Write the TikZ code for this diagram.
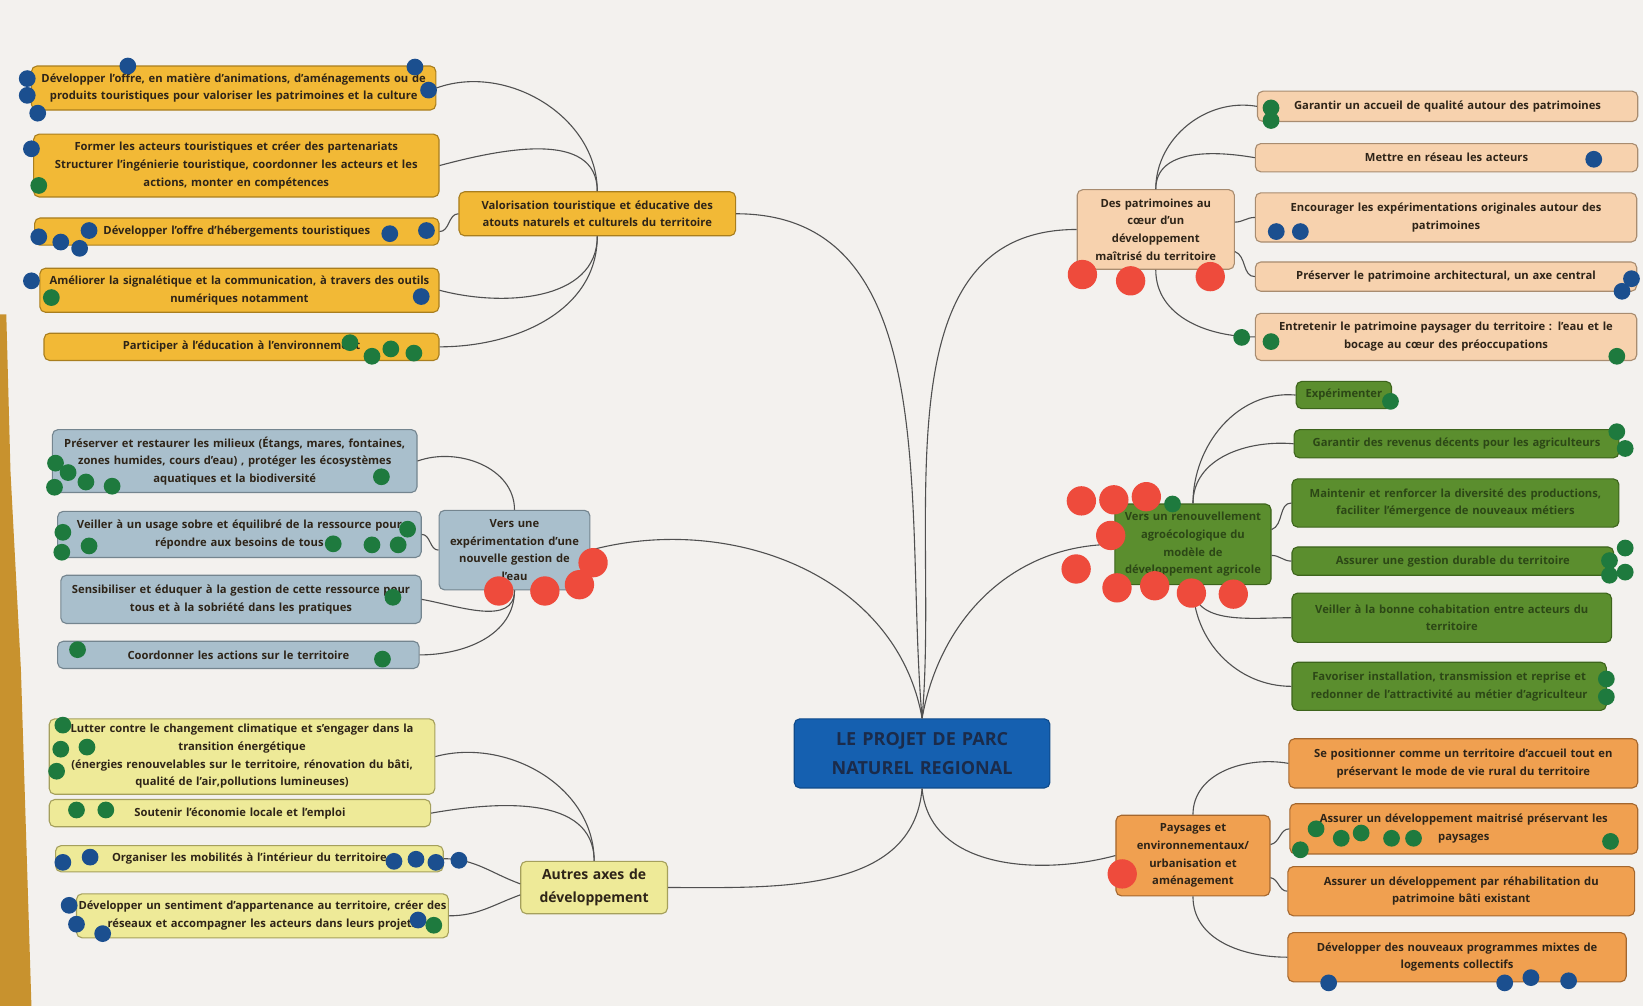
\documentclass[tikz,border=0pt]{standalone}
\usepackage{fontspec}
\setmainfont{Open Sans}
\usetikzlibrary{positioning}
\definecolor{paper}{HTML}{F3F1EE}
\definecolor{strip}{HTML}{C8922E}
\definecolor{goldF}{HTML}{F2B936}
\definecolor{goldD}{HTML}{A97E1E}
\definecolor{peachF}{HTML}{F7D2AE}
\definecolor{peachD}{HTML}{A88C70}
\definecolor{greyF}{HTML}{A9BFCC}
\definecolor{greyD}{HTML}{74858F}
\definecolor{greenF}{HTML}{5B8E2E}
\definecolor{greenD}{HTML}{3D641C}
\definecolor{greenT}{HTML}{2C4716}
\definecolor{paleF}{HTML}{EEEA98}
\definecolor{paleD}{HTML}{A5A05C}
\definecolor{orangeF}{HTML}{F0A050}
\definecolor{orangeD}{HTML}{A4672E}
\definecolor{titleF}{HTML}{1560B0}
\definecolor{titleD}{HTML}{0E4A8A}
\definecolor{titleT}{HTML}{1B2B4A}
\definecolor{txt}{HTML}{2E2418}
\definecolor{dotB}{HTML}{1B4F8F}
\definecolor{dotG}{HTML}{1E7A3E}
\definecolor{dotR}{HTML}{EE4B3C}
\definecolor{wire}{HTML}{505050}
\newcommand{\boxfont}{\fontsize{6.1}{9.6}\selectfont\bfseries}

\begin{document}
\begin{tikzpicture}[x=0.02cm,y=-0.02cm,
  box/.style 2 args={draw,rounded corners=3pt,align=center,inner xsep=0pt,inner ysep=1pt,
    line width=0.6pt,text=txt,font=\boxfont,text width=#1,minimum height=#2},
  gold/.style 2 args={box={#1}{#2},fill=goldF,draw=goldD},
  peach/.style 2 args={box={#1}{#2},fill=peachF,draw=peachD},
  grey/.style 2 args={box={#1}{#2},fill=greyF,draw=greyD},
  green/.style 2 args={box={#1}{#2},fill=greenF,draw=greenD,text=greenT},
  pale/.style 2 args={box={#1}{#2},fill=paleF,draw=paleD},
  orange/.style 2 args={box={#1}{#2},fill=orangeF,draw=orangeD},
  link/.style={draw=wire,line width=0.6pt}]
\useasboundingbox (0,0) rectangle (1568,960);
\fill[paper] (0,0) rectangle (1568,960);
\fill[strip] (0,300) -- (6,300) -- (10,450) -- (20,640) -- (30,960) -- (0,960) -- cycle;

\node[box={4.88cm}{1.32cm},fill=titleF,draw=titleD,text=titleT,font=\fontsize{9.8}{16}\selectfont\bfseries] (ctr) at (880,719) {LE PROJET DE PARC\\NATUREL REGIONAL};

\node[gold={5.28cm}{0.84cm}] (val) at (570,204) {Valorisation touristique et éducative des\\atouts naturels et culturels du territoire};
\node[gold={7.72cm}{0.84cm}] (c1) at (223,84) {Développer l'offre, en matière d'animations, d'aménagements ou de\\produits touristiques pour valoriser les patrimoines et la culture};
\node[gold={7.74cm}{1.2cm}] (c2) at (225.5,158) {Former les acteurs touristiques et créer des partenariats\\Structurer l'ingénierie touristique, coordonner les acteurs et les\\actions, monter en compétences};
\node[gold={7.72cm}{0.52cm}] (c3) at (226,221) {Développer l'offre d'hébergements touristiques};
\node[gold={7.62cm}{0.84cm}] (c4) at (228.5,277) {Améliorer la signalétique et la communication, à travers des outils\\numériques notamment};
\node[gold={7.54cm}{0.52cm}] (c5) at (230.5,331) {Participer à l'éducation à l'environnement};

\node[grey={2.88cm}{1.52cm}] (wat) at (491,525) {Vers une\\expérimentation d'une\\nouvelle gestion de\\l'eau};
\node[grey={6.96cm}{1.2cm}] (w1) at (224,440) {Préserver et restaurer les milieux (Étangs, mares, fontaines,\\zones humides, cours d'eau) , protéger les écosystèmes\\aquatiques et la biodiversité};
\node[grey={6.94cm}{0.88cm}] (w2) at (228.5,510) {Veiller à un usage sobre et équilibré de la ressource pour\\répondre aux besoins de tous};
\node[grey={6.88cm}{0.92cm}] (w3) at (230,572) {Sensibiliser et éduquer à la gestion de cette ressource pour\\tous et à la sobriété dans les pratiques};
\node[grey={6.9cm}{0.52cm}] (w4) at (227.5,625) {Coordonner les actions sur le territoire};

\node[pale={2.8cm}{1.0cm},font=\fontsize{7.6}{12.5}\selectfont\bfseries] (aut) at (567,847) {Autres axes de\\développement};
\node[pale={7.36cm}{1.44cm}] (a1) at (231,722) {Lutter contre le changement climatique et s'engager dans la\\transition énergétique\\(énergies renouvelables sur le territoire, rénovation du bâti,\\qualité de l'air,pollutions lumineuses)};
\node[pale={7.28cm}{0.52cm}] (a2) at (229,776) {Soutenir l'économie locale et l'emploi};
\node[pale={7.4cm}{0.5cm}] (a3) at (238,819.5) {Organiser les mobilités à l'intérieur du territoire};
\node[pale={7.1cm}{0.84cm}] (a4) at (250.5,874) {Développer un sentiment d'appartenance au territoire, créer des\\réseaux et accompagner les acteurs dans leurs projets};

\node[peach={3.0cm}{1.52cm}] (pat) at (1103,219) {Des patrimoines au\\cœur d'un\\développement\\maîtrisé du territoire};
\node[peach={7.26cm}{0.58cm}] (p1) at (1381.5,101.5) {Garantir un accueil de qualité autour des patrimoines};
\node[peach={7.3cm}{0.54cm}] (p2) at (1380.5,150.5) {Mettre en réseau les acteurs};
\node[peach={7.28cm}{0.94cm}] (p3) at (1380,207.5) {Encourager les expérimentations originales autour des\\patrimoines};
\node[peach={7.28cm}{0.56cm}] (p4) at (1380,264) {Préserver le patrimoine architectural, un axe central};
\node[peach={7.28cm}{0.9cm}] (p5) at (1380,321.5) {Entretenir le patrimoine paysager du territoire : l'eau et le\\bocage au cœur des préoccupations};

\node[green={2.98cm}{1.54cm}] (agr) at (1138.5,519.5) {Vers un renouvellement\\agroécologique du\\modèle de\\développement agricole};
\node[green={1.82cm}{0.52cm}] (g1) at (1282.5,377) {Expérimenter};
\node[green={6.2cm}{0.54cm}] (g2) at (1390,423.5) {Garantir des revenus décents pour les agriculteurs};
\node[green={6.24cm}{0.92cm}] (g3) at (1389,480) {Maintenir et renforcer la diversité des productions,\\faciliter l'émergence de nouveaux métiers};
\node[green={6.14cm}{0.54cm}] (g4) at (1386.5,535.5) {Assurer une gestion durable du territoire};
\node[green={6.1cm}{0.94cm}] (g5) at (1385.5,589.5) {Veiller à la bonne cohabitation entre acteurs du\\territoire};
\node[green={6.0cm}{0.92cm}] (g6) at (1383,655) {Favoriser installation, transmission et reprise et\\redonner de l'attractivité au métier d'agriculteur};

\node[orange={2.94cm}{1.54cm}] (pay) at (1138.5,816.5) {Paysages et\\environnementaux/\\urbanisation et\\aménagement};
\node[orange={6.66cm}{0.94cm}] (o1) at (1396.5,728.5) {Se positionner comme un territoire d'accueil tout en\\préservant le mode de vie rural du territoire};
\node[orange={6.64cm}{0.96cm}] (o2) at (1397,791) {Assurer un développement maitrisé préservant les\\paysages};
\node[orange={6.62cm}{0.94cm}] (o3) at (1394.5,850.5) {Assurer un développement par réhabilitation du\\patrimoine bâti existant};
\node[orange={6.46cm}{0.94cm}] (o4) at (1390.5,913.5) {Développer des nouveaux programmes mixtes de\\logements collectifs};

\draw[link] (val.east) to[out=0,in=95] (ctr.north);
\draw[link] (wat.east) to[out=15,in=100] (ctr.north);
\draw[link] (aut.east) to[out=0,in=-95] (ctr.south);
\draw[link] (pat.west) to[out=180,in=85] (ctr.north);
\draw[link] (agr.west) to[out=180,in=80] (ctr.north);
\draw[link] (pay.west) to[out=195,in=-85] (ctr.south);

\draw[link] (val.north) to[out=90,in=20] (c1.east);
\draw[link] (val.north) to[out=90,in=15] (c2.east);
\draw[link] (val.west) to[out=180,in=0] (c3.east);
\draw[link] (val.south) to[out=-90,in=-15] (c4.east);
\draw[link] (val.south) to[out=-90,in=0] (c5.east);

\draw[link] (wat.north) to[out=90,in=20] (w1.east);
\draw[link] (wat.west) to[out=180,in=0] (w2.east);
\draw[link] (wat.south) to[out=-90,in=-10] (w3.east);
\draw[link] (wat.south) to[out=-90,in=0] (w4.east);

\draw[link] (aut.north) to[out=90,in=15] (a1.east);
\draw[link] (aut.north) to[out=90,in=10] (a2.east);
\draw[link] ([yshift=2pt]aut.west) to[out=160,in=0] (a3.east);
\draw[link] ([yshift=-4pt]aut.west) to[out=200,in=0] (a4.east);

\draw[link] (pat.north) to[out=90,in=170] (p1.west);
\draw[link] (pat.north) to[out=90,in=170] (p2.west);
\draw[link] ([yshift=4pt]pat.east) to[out=0,in=180] (p3.west);
\draw[link] ([yshift=-12pt]pat.east) to[out=-20,in=180] (p4.west);
\draw[link] (pat.south) to[out=-90,in=180] (p5.west);

\draw[link] (agr.north) to[out=90,in=175] (g1.west);
\draw[link] (agr.north) to[out=90,in=175] (g2.west);
\draw[link] ([yshift=8pt]agr.east) to[out=20,in=180] (g3.west);
\draw[link] ([yshift=-6pt]agr.east) to[out=0,in=180] (g4.west);
\draw[link] (agr.south) to[out=-90,in=180] (g5.west);
\draw[link] (agr.south) to[out=-90,in=180] (g6.west);

\draw[link] (pay.north) to[out=90,in=170] (o1.west);
\draw[link] ([yshift=6pt]pay.east) to[out=10,in=180] (o2.west);
\draw[link] ([yshift=-12pt]pay.east) to[out=-10,in=180] (o3.west);
\draw[link] (pay.south) to[out=-90,in=180] (o4.west);

\foreach \x/\y in {122/63,26/75,26/91,36/108,396/64,409/86,30/142,37/226,58/231,76/237,85/220,
  372/223,407/220,30/268,402/283,1521/152,1218/221,1241/221,1557/266,1548/278,60/823,86/818,
  376/822,397/820,416/823,438/821,66/864,73/882,98/891,399/878,1268/938,1436/938,1461/933,1497/936}
  \fill[dotB] (\x,\y) circle (0.16cm);
\foreach \x/\y in {37/177,49/284,334/327,355/340,373/333,395/337,53/442,65/451,82/460,107/464,
  52/465,364/455,60/508,85/521,59/527,318/519,355/520,380/520,389/505,375/570,74/620,365/629,
  60/692,58/715,83/713,54/736,73/773,101/773,414/883,1213/103,1213/115,1185/322,1213/326,
  1543/340,1327/383,1543/412,1551/428,1551/523,1536/535,1536/549,1551/546,1533/648,1533/665,
  1119/481,1256/791,1280/800,1299/795,1328/800,1349/800,1241/811,1537/803}
  \fill[dotG] (\x,\y) circle (0.16cm);
\foreach \x/\y in {1033/262,1079/268,1155/264,566/537,553/558,520/564,476/564,1032/478,1063/477,
  1094/474,1060/511,1027/543,1066/561,1102/559,1137/566,1177/567,1071/834}
  \fill[dotR] (\x,\y) circle (0.28cm);
\end{tikzpicture}
\end{document}
